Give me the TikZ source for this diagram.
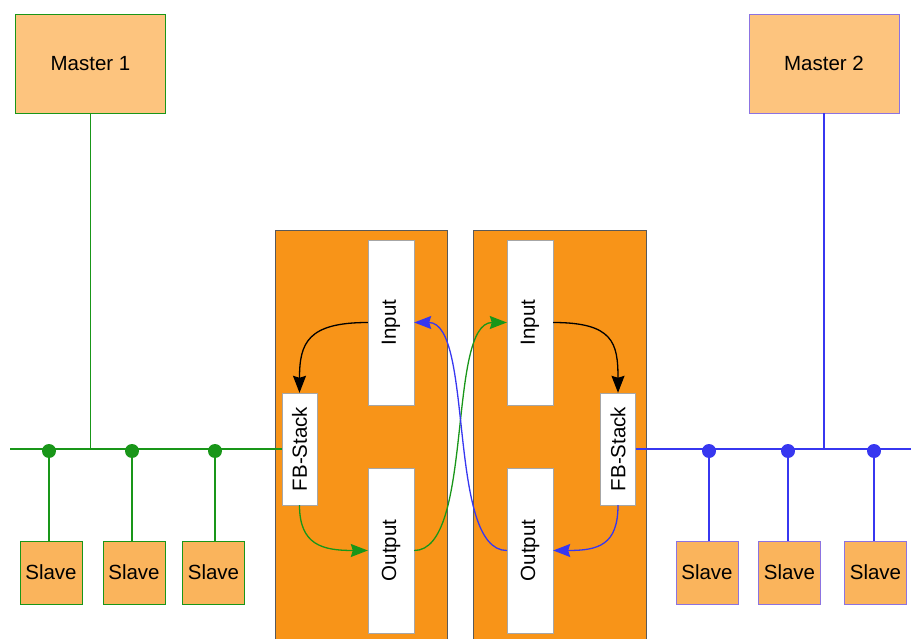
\documentclass[tikz,border=0pt]{standalone}
\usepackage{fontspec}
\setmainfont{Liberation Sans}
\usetikzlibrary{arrows.meta}
\definecolor{busgreen}{RGB}{25,150,25}
\definecolor{busblue}{RGB}{55,55,240}
\definecolor{mviolet}{RGB}{140,115,225}
\definecolor{devorange}{RGB}{248,148,24}
\definecolor{mfill}{RGB}{253,196,126}
\definecolor{sfill}{RGB}{250,180,92}
\begin{document}
\begin{tikzpicture}[x=1pt, y=-1pt, >={Stealth[length=17pt,width=13pt,inset=2pt]},
    font=\fontsize{20.5}{24}\selectfont,
    master/.style={draw, fill=mfill, minimum width=150pt, minimum height=99pt, inner sep=0pt},
    slave/.style={draw, fill=sfill, minimum width=62pt, minimum height=63pt, inner sep=0pt},
    iobox/.style={draw=black!35, fill=white, minimum width=46pt, minimum height=165pt, inner sep=0pt},
    fbbox/.style={draw=black!35, fill=white, minimum width=35pt, minimum height=112pt, inner sep=0pt},
    tap/.style={circle, fill, inner sep=0pt, minimum size=14pt},
    bus/.style={line width=1.3pt}]
\useasboundingbox (0,0) rectangle (911,639);
% the two devices
\fill[devorange](275,230) rectangle (447,639);
\draw[black!65](275,639)--(275,230)--(447,230)--(447,639);
\fill[devorange](473,230) rectangle (646,639);
\draw[black!65](473,639)--(473,230)--(646,230)--(646,639);

\node[iobox, label={[rotate=90]center:Input}] (in1) at (391,322.5) {};
\node[iobox, label={[rotate=90]center:Output}] (out1) at (391,550.5) {};
\node[fbbox, label={[rotate=90]center:FB-Stack}] (fb1) at (299.5,449) {};
\node[iobox, label={[rotate=90]center:Input}] (in2) at (530,322.5) {};
\node[iobox, label={[rotate=90]center:Output}] (out2) at (530,550.5) {};
\node[fbbox, label={[rotate=90]center:FB-Stack}] (fb2) at (618,449) {};

% network 1
\node[master, draw=busgreen] (m1) at (90.5,63.5) {Master 1};
\coordinate (b1) at (10,449);
\draw[busgreen, bus](b1 |- fb1.west)--(fb1.west);
\draw[busgreen, bus](m1.south)--(m1.south |- fb1.west);
\foreach \x/\t/\n in {51/49/1, 134/132/2, 213.5/215/3}{
  \node[slave, draw=busgreen] (s\n) at (\x,572.5) {Slave};
  \node[tap, busgreen] (t\n) at (\t,451) {};
  \draw[busgreen, bus](t\n)--(t\n |- s\n.north);
}

% network 2
\node[master, draw=mviolet] (m2) at (824,63.5) {Master 2};
\coordinate (b2) at (911,449);
\draw[busblue, bus](fb2.east)--(b2 |- fb2.east);
\draw[busblue, bus](m2.south)--(m2.south |- fb2.east);
\foreach \x/\t/\n in {707/709/4, 789.5/788/5, 875.5/874/6}{
  \node[slave, draw=mviolet] (s\n) at (\x,572.5) {Slave};
  \node[tap, busblue] (t\n) at (\t,451) {};
  \draw[busblue, bus](t\n)--(t\n |- s\n.north);
}

% data flow
\draw[->, line width=1.3pt](in1.west) .. controls +(-60,0) and +(0,-50) .. (fb1.north);
\draw[->, line width=1.3pt, busgreen](fb1.south) .. controls +(0,40) and +(-45,0) .. (out1.west);
\draw[->, line width=1.3pt, busgreen](out1.east) .. controls +(60,0) and +(-60,0) .. (in2.west);
\draw[->, line width=1.3pt](in2.east) .. controls +(60,0) and +(0,-50) .. (fb2.north);
\draw[->, line width=1.3pt, busblue](fb2.south) .. controls +(0,40) and +(45,0) .. (out2.east);
\draw[->, line width=1.3pt, busblue](out2.west) .. controls +(-60,0) and +(60,0) .. (in1.east);
\end{tikzpicture}
\end{document}
